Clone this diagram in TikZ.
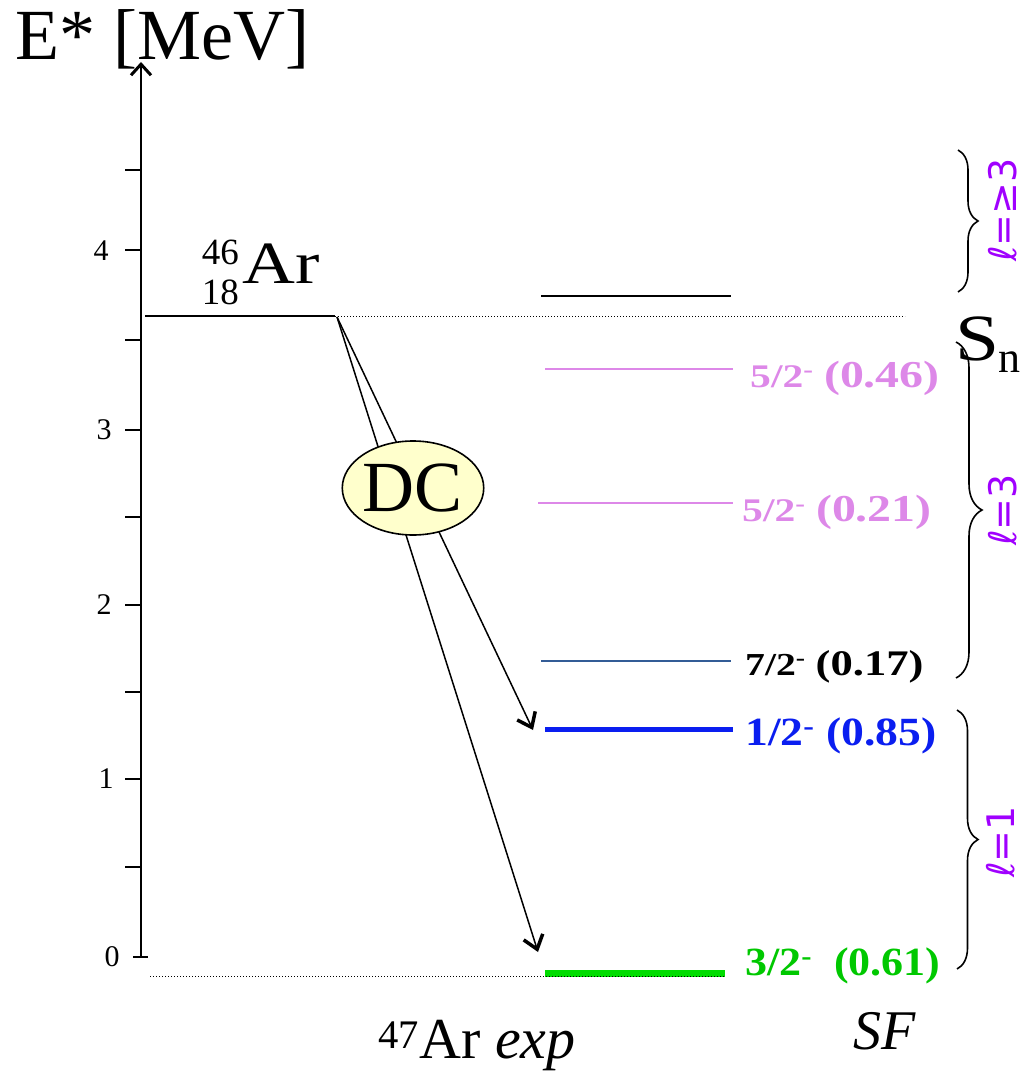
\documentclass[tikz,border=0pt]{standalone}
\usepackage{fontspec}
\setmainfont{Liberation Serif}
\newfontfamily\ellfont{DejaVu Sans}
\usetikzlibrary{arrows.meta,shapes.geometric,decorations.pathreplacing}

\definecolor{lvlpink}{RGB}{221,136,232}
\definecolor{lvlsteel}{RGB}{51,92,150}
\definecolor{lvlblue}{RGB}{10,30,240}
\definecolor{lvlgreen}{RGB}{0,220,0}
\definecolor{txtgreen}{RGB}{0,200,0}
\definecolor{ellviolet}{RGB}{160,0,255}
\definecolor{dcfill}{RGB}{255,255,204}

\newcommand{\fs}[1]{\fontsize{#1}{#1}\selectfont}
\newcommand{\wide}[2]{\scalebox{#1}[1]{#2}}

\tikzset{
  lvltext/.style={anchor=base west, inner sep=0pt, font=\bfseries},
  ellmark/.style={rotate=90, inner sep=0pt, font=\ellfont\fs{38}, text=ellviolet},
  levbrace/.style={decorate, line width=1.6pt},
  decay/.style={line width=1.5pt, -{Straight Barb[length=13pt,width=20pt,line width=3.5pt]}}
}

\begin{document}
\begin{tikzpicture}[x=1pt, y=-1pt]
    \useasboundingbox (0,0) rectangle (1029,1075);

    % energy axis
    \draw[line width=2pt, -{Straight Barb[length=11pt,width=20pt,line width=3pt]}]
        (141,957) -- (141,62);
    \foreach \ty in {170,250,340,430,517,605,692,779,867}
        \draw[line width=1.6pt] (125,\ty) -- (141,\ty);
    \draw[line width=1.6pt] (133,957) -- (148,957);
    \node[font=\fs{30}] (t4) at (101,251) {4};
    \node[font=\fs{30}] (t3) at (104,430) {3};
    \node[font=\fs{30}] (t2) at (104,605) {2};
    \node[font=\fs{30}] (t1) at (106,779) {1};
    \node[font=\fs{30}] (t0) at (112,957) {0};
    \node[anchor=base west, inner sep=0pt, font=\fs{72}] (axlabel) at (15,60) {E* [MeV]};

    % 46Ar ground state and S_n
    \draw[line width=1.6pt] (145,316) -- (335,316);
    \coordinate (arend) at (337,317);
    \draw[dotted, line width=1pt] (335,316) -- (905,316);
    \node[anchor=base east, inner sep=0pt, font=\fs{37}] (amass) at (239,265) {46};
    \node[anchor=base east, inner sep=0pt, font=\fs{37}] (acharge) at (239,304) {18};
    \node[anchor=base west, inner sep=0pt, font=\fs{60}] (aname) at (242,283) {\wide{1.22}{Ar}};
    \node[anchor=base west, inner sep=0pt, font=\fs{66}] (sn) at (955,360) {\wide{1.2}{S}};
    \node[anchor=base west, inner sep=0pt, font=\fs{44}] (snsub) at (998,372) {n};

    % 47Ar levels
    \draw[line width=1.6pt] (541,296) -- (731,296);
    \draw[line width=1.4pt, lvlpink] (545,369) -- (733,369);
    \draw[line width=1.4pt, lvlpink] (538,503) -- (733,503);
    \draw[line width=1.4pt, lvlsteel] (541,661) -- (731,661);
    \draw[line width=5pt, lvlblue] (545,729) -- (733,729);
    \draw[line width=7pt, lvlgreen] (545,973) -- (725,973);
    \draw[dotted, line width=1pt] (150,976) -- (725,976);

    \node[lvltext, text=lvlpink] (l52a) at (750,387)
        {\wide{1.26}{\fs{33}5/2\textsuperscript{-} \fs{38}(0.46)}};
    \node[lvltext, text=lvlpink] (l52b) at (742,521)
        {\wide{1.26}{\fs{33}5/2\textsuperscript{-} \fs{38}(0.21)}};
    \node[lvltext] (l72) at (745,675)
        {\wide{1.24}{\fs{32}7/2\textsuperscript{-} \fs{36}(0.17)}};
    \node[lvltext, text=lvlblue] (l12) at (745,745)
        {\wide{1.14}{\fs{40}1/2\textsuperscript{-} (0.85)}};
    \node[lvltext, text=txtgreen] (l32) at (745,975)
        {\wide{1.1}{\fs{40}3/2\textsuperscript{-} \ (0.61)}};

    % direct capture
    \coordinate (tiphalf) at (533,730);
    \coordinate (tipgs) at (538,952);
    \draw[decay] (arend) -- (tiphalf);
    \draw[decay] (arend) -- (tipgs);
    \node[ellipse, draw, line width=1.6pt, fill=dcfill, minimum width=106pt,
          minimum height=94pt, inner sep=0pt, font=\rmfamily\fs{72}] (dc) at (413,488) {DC};

    % angular momentum groups
    \draw[levbrace, decoration={brace, amplitude=20pt}] (958,150) -- (958,292);
    \draw[levbrace, decoration={brace, amplitude=26pt}] (956,342) -- (956,678);
    \draw[levbrace, decoration={brace, amplitude=21pt}] (957,710) -- (957,969);
    \node[ellmark] (lg3) at (1003,210) {ℓ=≥3};
    \node[ellmark] (l3) at (1003,510) {ℓ=3};
    \node[ellmark] (l1) at (1001,842) {ℓ=1};

    % bottom captions
    \node[anchor=base west, inner sep=0pt, font=\fs{58}] (exp) at (378,1058)
        {\textsuperscript{47}Ar \textit{exp}};
    \node[anchor=base west, inner sep=0pt, font=\fs{56}\itshape] (sf) at (853,1049) {SF};
\end{tikzpicture}
\end{document}
